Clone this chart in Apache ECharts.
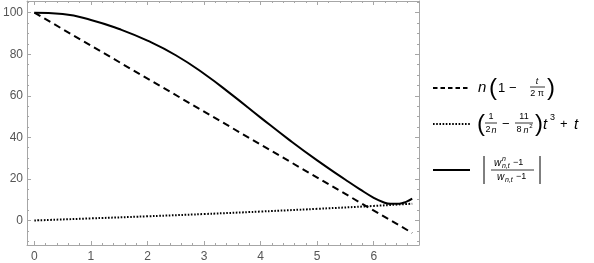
<!DOCTYPE html>
<html><head><meta charset="utf-8">
<script src="https://cdn.jsdelivr.net/npm/echarts@6/dist/echarts.min.js"></script>
<style>html,body{margin:0;padding:0;background:#fff}#c{width:594px;height:263px}</style>
</head><body><div id="c"></div>
<script>
// ---- data ----
const tSolid = [0,0.5,1.0,1.5,2.0,2.5,3.0,3.5,4.0,4.5,5.0,5.5,5.75,6.0,6.15,6.3,6.45,6.58,6.68];
const ySolid = [100,99.3,96.5,92.1,86.5,79.5,70.6,60.3,49.5,38.9,28.9,19.6,15.1,10.9,9.0,8.0,8.1,9.1,10.5];
const tDashed = [0,6.68];
const yDashed = [100,-6.0];
const tDotted = [0,1,2,3,4,5,6,6.68];
const yDotted = [0,1.0,2.0,3.1,4.3,5.6,7.0,8.1];
const xRange = [-0.13, 6.8];
const yRange = [-11.8, 105.6];

const zip = (a,b) => a.map((v,i)=>[v,b[i]]);
const FRAME = '#a6a6a6';
const LABEL = '#555';
const FONT = 'Liberation Sans, Arial, sans-serif';

function xAx(pos, show){
  return {type:'value', position:pos, min:xRange[0], max:xRange[1], splitNumber:7,
    axisLine:{show:true, onZero:false, lineStyle:{color:FRAME,width:1}},
    axisTick:{show:true, inside:true, length:4, lineStyle:{color:FRAME}},
    minorTick:{show:true, splitNumber:5, length:2, lineStyle:{color:FRAME}},
    splitLine:{show:false},
    axisLabel:{show:show, color:LABEL, fontSize:12, fontFamily:FONT, margin:6,
      formatter:v=>Math.abs(v-Math.round(v))<1e-6?String(Math.round(v)):''}
  };
}
function yAx(pos, show){
  return {type:'value', position:pos, min:yRange[0], max:yRange[1], splitNumber:5,
    axisLine:{show:true, onZero:false, lineStyle:{color:FRAME,width:1}},
    axisTick:{show:true, inside:true, length:4, lineStyle:{color:FRAME}},
    minorTick:{show:true, splitNumber:4, length:2, lineStyle:{color:FRAME}},
    splitLine:{show:false},
    axisLabel:{show:show, color:LABEL, fontSize:12, fontFamily:FONT, margin:4,
      formatter:v=>Math.abs(v/20-Math.round(v/20))<1e-6?String(Math.round(v)):''}
  };
}

function txt(x,y,s,size,italic,align){
  return {type:'text', x:x, y:y, silent:true, style:{text:s, fontSize:size, fontFamily:FONT,
    fontStyle:italic?'italic':'normal', fill:'#000', align:align||'left', verticalAlign:'middle'}};
}
function bar(x1,x2,y){
  return {type:'line', silent:true, shape:{x1:x1,y1:y,x2:x2,y2:y}, style:{stroke:'#000', lineWidth:0.8}};
}
function sample(y,dash,w){
  return {type:'line', silent:true, shape:{x1:433,y1:y,x2:470,y2:y}, style:{stroke:'#000', lineWidth:w, lineDash:dash}};
}

const g = [];
// legend 1: n(1 - t/(2π))
g.push(sample(88,[4.5,3],2));
g.push(txt(478,88,'n',15,true));
g.push(txt(489,88,'(',24,false));
g.push(txt(498,88,'1',13,false));
g.push(txt(509,88,'−',13,false));
g.push(txt(537,81,'t',9,true,'center'));
g.push(bar(530,545,87));
g.push(txt(537,94,'2 π',9,false,'center'));
g.push(txt(547,88,')',24,false));
// legend 2: (1/(2n) - 11/(8n^2)) t^3 + t
g.push(sample(124,[1.6,1.6],2));
g.push(txt(477,124,'(',24,false));
g.push(txt(491,117,'1',9,false,'center'));
g.push(bar(485,497,123));
g.push(txt(488,130,'2',9,false,'center'));
g.push(txt(494,130,'n',9,true,'center'));
g.push(txt(502,124,'−',13,false));
g.push(txt(524,117,'11',9,false,'center'));
g.push(bar(515,533,123));
g.push(txt(519,130,'8',9,false,'center'));
g.push(txt(526,130,'n',9,true,'center'));
g.push(txt(531,126,'2',6,false,'center'));
g.push(txt(535,124,')',24,false));
g.push(txt(543,125,'t',15,true));
g.push(txt(550,118,'3',9,false));
g.push(txt(560,124,'+',13,false));
g.push(txt(574,125,'t',15,true));
// legend 3: |(w^n_{n,t}-1)/(w_{n,t}-1)|
g.push(sample(170,null,2));
g.push({type:'line', silent:true, shape:{x1:484,y1:156,x2:484,y2:184}, style:{stroke:'#000', lineWidth:1}});
g.push({type:'line', silent:true, shape:{x1:540,y1:156,x2:540,y2:184}, style:{stroke:'#000', lineWidth:1}});
g.push(txt(494,163,'w',10,true));
g.push(txt(502,159,'n',7,true));
g.push(txt(502,166,'n,t',7,true));
g.push(txt(513,163,'−1',9,false));
g.push(bar(491,534,170));
g.push(txt(497,177,'w',10,true));
g.push(txt(505,180,'n,t',7,true));
g.push(txt(516,177,'−1',9,false));

const option = {
  animation:false,
  backgroundColor:'#fff',
  grid:{left:23, right:175, top:1, bottom:18, containLabel:false},
  xAxis:[xAx('bottom',true), xAx('top',false)],
  yAxis:[yAx('left',true), yAx('right',false)],
  series:[
    {type:'line', data:zip(tDashed,yDashed), symbol:'none',
      lineStyle:{color:'#000', width:2, type:[7,4.5]}},
    {type:'line', data:zip(tDotted,yDotted), symbol:'none', smooth:true,
      lineStyle:{color:'#000', width:2, type:[1.6,1.6]}},
    {type:'line', data:zip(tSolid,ySolid), symbol:'none', smooth:0.5,
      lineStyle:{color:'#000', width:2}}
  ],
  graphic:g
};
echarts.init(document.getElementById('c')).setOption(option);
</script></body></html>
